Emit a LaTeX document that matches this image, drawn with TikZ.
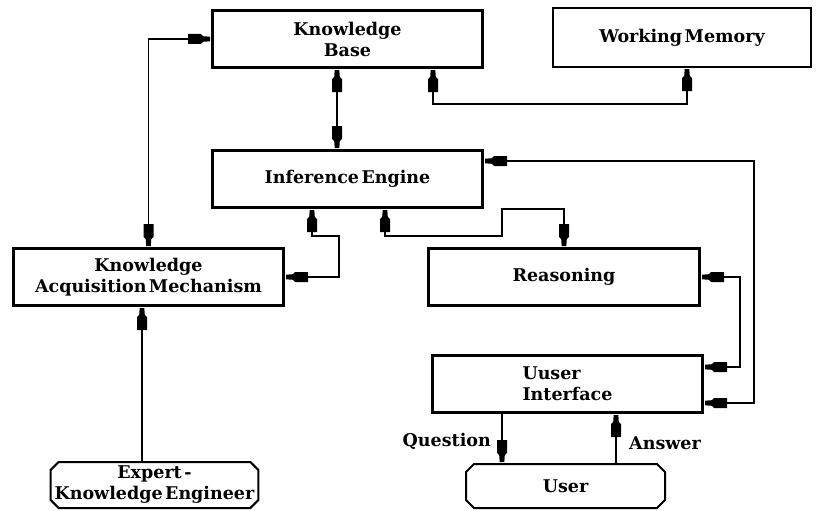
\documentclass[tikz,border=0pt]{standalone}
\usepackage{fontspec}
\setmainfont{DejaVu Serif}
\usetikzlibrary{shapes.misc}
\newcommand\myboxfont{\bfseries\fontsize{17.5}{21}\selectfont\spaceskip=2.5pt plus 1pt\relax}
\pgfdeclarearrow{
  name = Blk,
  setup code = {
    \pgfarrowssettipend{0pt}
    \pgfarrowssetlineend{-1pt}
    \pgfarrowssetbackend{-23pt}
    \pgfarrowssetvisualbackend{-23pt}
  },
  drawing code = {
    \pgfpathmoveto{\pgfpoint{-1pt}{2.3pt}}
    \pgfpathlineto{\pgfpoint{-8pt}{2.8pt}}
    \pgfpathlineto{\pgfpoint{-10pt}{5pt}}
    \pgfpathlineto{\pgfpoint{-23pt}{5pt}}
    \pgfpathlineto{\pgfpoint{-23pt}{-5pt}}
    \pgfpathlineto{\pgfpoint{-10pt}{-5pt}}
    \pgfpathlineto{\pgfpoint{-8pt}{-2.8pt}}
    \pgfpathlineto{\pgfpoint{-1pt}{-2.3pt}}
    \pgfpathclose
    \pgfusepathqfill
  }
}
\begin{document}
\begin{tikzpicture}[x=1pt,y=-1pt,
  txt/.style={font=\myboxfont, align=center},
  box/.style={draw, line width=3pt, txt},
  thinbox/.style={draw, line width=2pt, txt},
  term/.style={draw, line width=2pt, txt, chamfered rectangle, chamfered rectangle xsep=4pt, chamfered rectangle ysep=4pt, inner sep=0pt},
  conn/.style={line width=1.4pt},
  lab/.style={txt, inner sep=0pt}]
\useasboundingbox (0,0) rectangle (816,511);
\fill[white] (0,0) rectangle (816,511);
\node[box, minimum width=270pt, minimum height=57pt] (kb) at (347.5,39) {Knowledge\\Base};
\node[thinbox, minimum width=258pt, minimum height=59pt] (wm) at (682,37.5) {Working Memory};
\node[box, minimum width=270pt, minimum height=57pt] (ie) at (347.5,179) {Inference Engine};
\node[box, minimum width=270pt, minimum height=57pt] (kam) at (148.5,277) {Knowledge\\Acquisition Mechanism};
\node[box, minimum width=271pt, minimum height=57pt] (reas) at (564,277) {Reasoning};
\node[box, minimum width=270pt, minimum height=57pt, align=left] (ui) at (567.5,384) {Uuser\\Interface};
\node[term, minimum width=199pt, minimum height=44pt] (user) at (565.5,486) {User};
\node[term, minimum width=205pt, minimum height=46pt] (exp) at (154.5,485) {Expert -\\Knowledge Engineer};
\draw[conn,Blk-Blk] (kb.west) -| (kam.north);
\draw[conn,Blk-Blk] ([xshift=-10.5pt]kb.south) -- ([xshift=-10.5pt]ie.north);
\draw[conn,Blk-Blk] ([xshift=85.5pt]kb.south) -- ++(0,35) -| ([xshift=5pt]wm.south);
\draw[conn,Blk-Blk] ([xshift=-35.5pt]ie.south) -- ++(0,27) -- ++(27,0) |- (kam.east);
\draw[conn,Blk-Blk] ([xshift=37.5pt]ie.south) -- ++(0,27) -| ++(117,-27) -| (reas.north);
\draw[conn,Blk-Blk] ([yshift=18pt]ie.east) -- ++(270,0) |- ([yshift=-19pt]ui.east);
\draw[conn,Blk-Blk] (reas.east) -- ++(39,0) |- ([yshift=17pt]ui.east);
\coordinate (qc) at ([xshift=-65.5pt]ui.south);
\draw[conn,-Blk] (qc) -- (qc |- user.north);
\coordinate (ac) at ([xshift=50.5pt]user.north);
\draw[conn,-Blk] (ac) -- (ac |- ui.south);
\coordinate (ec) at ([xshift=-12.5pt]exp.north);
\draw[conn,-Blk] (ec) -- (ec |- kam.south);
\node[lab, anchor=east] (ql) at (491,441) {Question};
\node[lab, anchor=west] (al) at (629,443) {Answer};
\end{tikzpicture}
\end{document}
